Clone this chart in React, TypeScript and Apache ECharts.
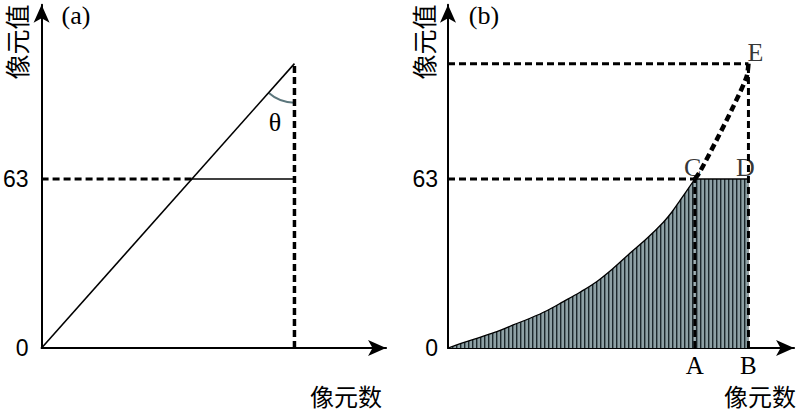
import React, { useEffect, useRef } from 'react';
import * as echarts from 'echarts';

// scale: pixels per data unit (same on both axes)
const K = 169 / 63;
const Y_MAX = 128;
const X_MAX = 129;

const yTickValues = [0, 63];
const yTickLabels = ['0', '63'];
const xTickValuesB = [92, 112];
const xTickLabelsB = ['A', 'B'];

// panel (a)
const lineAX = [0, 94.7];
const lineAY = [0, 106];
const level63 = 63;
const crossA = 56.3;
const rightA = 94.7;
const topA = 106;

// panel (b)
const curveX = [0, 5.7, 11.9, 18.2, 24.3, 30.6, 36.8, 43, 49.2, 55.4, 61.6, 67.8, 74.1, 80.2, 83.4, 86.5, 92];
const curveY = [0, 2.0, 4.0, 6.1, 8.6, 11.1, 13.9, 17.3, 20.8, 24.7, 29.7, 35.3, 40.8, 46.8, 50.6, 55.0, 63];
const extX = [92, 93.9, 100.1, 106.3, 111.3, 112];
const extY = [63, 65.7, 77.5, 89.9, 101.1, 106];
const pointA = 92;
const pointB = 112;
const topB = 106;
const pointLabels = ['C', 'D', 'E'];

const SERIF = '"Liberation Serif", "Times New Roman", serif';
const NUM = '"Liberation Sans", Arial, sans-serif';
const CJK = '"Noto Sans CJK SC", sans-serif';
const DASH = [7, 4];

export default function App() {
  const ref = useRef<HTMLDivElement>(null);
  useEffect(() => {
    if (!ref.current) return;
    const chart = echarts.init(ref.current, null, { renderer: 'svg' });

    const cv = document.createElement('canvas');
    cv.width = 4;
    cv.height = 4;
    const ctx = cv.getContext('2d')!;
    ctx.fillStyle = '#8ea1a5';
    ctx.fillRect(0, 0, 4, 4);
    ctx.fillStyle = '#1c282c';
    ctx.fillRect(0, 0, 1.4, 4);
    const pattern: any = { image: cv, repeat: 'repeat', imageWidth: 4, imageHeight: 4 };

    const gridW = X_MAX * K;
    const gridH = Y_MAX * K;
    const axisLine = {
      show: true,
      symbol: ['none', 'arrow'],
      symbolSize: [12, 18],
      lineStyle: { color: '#000', width: 2 },
    };
    const mkX = (gi: number) => ({
      type: 'value',
      gridIndex: gi,
      min: 0,
      max: X_MAX,
      axisLine,
      axisTick: { show: false },
      splitLine: { show: false },
      axisLabel:
        gi === 1
          ? {
              customValues: xTickValuesB,
              formatter: (v: number) => xTickLabelsB[xTickValuesB.indexOf(v)] ?? '',
              color: '#000',
              fontFamily: SERIF,
              fontSize: 25,
              lineHeight: 25,
              margin: 5,
            }
          : { show: false },
    });
    const mkY = (gi: number) => ({
      type: 'value',
      gridIndex: gi,
      min: 0,
      max: Y_MAX,
      axisLine,
      axisTick: { show: false },
      splitLine: { show: false },
      axisLabel: {
        customValues: yTickValues,
        formatter: (v: number) => yTickLabels[yTickValues.indexOf(v)] ?? '',
        color: '#000',
        fontFamily: NUM,
        fontSize: 23,
        margin: gi === 0 ? 13 : 10,
      },
    });

    const seg = (gi: number, pts: number[][], width: number, dashed: boolean, color = '#000', z = 3) => ({
      type: 'line',
      xAxisIndex: gi,
      yAxisIndex: gi,
      data: pts,
      symbol: 'none',
      z,
      lineStyle: { color, width, type: dashed ? DASH : 'solid' },
    });

    const curvePts = curveX.map((x, i) => [x, curveY[i]]);
    const extPts = extX.map((x, i) => [x, extY[i]]);

    chart.setOption({
      animation: false,
      grid: [
        { left: 40, top: 348 - gridH, width: gridW, height: gridH },
        { left: 448, top: 348 - gridH, width: gridW, height: gridH },
      ],
      xAxis: [mkX(0), mkX(1)],
      yAxis: [mkY(0), mkY(1)],
      series: [
        // panel a
        seg(0, lineAX.map((x, i) => [x, lineAY[i]]), 1.6, false),
        seg(0, [[0, level63], [crossA, level63]], 3, true),
        seg(0, [[crossA, level63], [rightA, level63]], 1.5, false),
        seg(0, [[rightA, 0], [rightA, topA]], 3.5, true),
        // panel b: shaded area
        {
          type: 'line',
          xAxisIndex: 1,
          yAxisIndex: 1,
          data: curvePts,
          smooth: 0.35,
          symbol: 'none',
          z: 2,
          lineStyle: { color: '#000', width: 1.3 },
          areaStyle: { color: pattern, opacity: 1 },
        },
        {
          type: 'line',
          xAxisIndex: 1,
          yAxisIndex: 1,
          data: [[pointA, level63], [pointB, level63]],
          symbol: 'none',
          z: 2,
          lineStyle: { color: '#000', width: 1.3 },
          areaStyle: { color: pattern, opacity: 1 },
        },
        seg(1, [[0, level63], [pointA, level63]], 3, true),
        seg(1, [[pointA, 0], [pointA, level63]], 3, true),
        seg(1, [[0, topB], [pointB, topB]], 3, true),
        seg(1, [[pointB, 0], [pointB, topB]], 3, true),
        {
          type: 'line',
          xAxisIndex: 1,
          yAxisIndex: 1,
          data: extPts,
          smooth: 0.3,
          symbol: 'none',
          z: 4,
          lineStyle: { color: '#000', width: 4.5, type: DASH },
        },
        {
          type: 'scatter',
          xAxisIndex: 1,
          yAxisIndex: 1,
          symbolSize: 0,
          z: 5,
          data: [
            { value: [pointA, level63], name: pointLabels[0], label: { offset: [-2, 1] } },
            { value: [pointB, level63], name: pointLabels[1], label: { offset: [-3, 1] } },
            { value: [pointB, topB], name: pointLabels[2], label: { offset: [7, 2] } },
          ],
          label: {
            show: true,
            position: 'top',
            distance: 0,
            formatter: (p: any) => p.name,
            color: '#000',
            fontFamily: SERIF,
            fontSize: 26,
          },
        },
      ],
    });

    const c = chart.convertToPixel({ gridIndex: 0 }, [rightA, topA]) as number[];
    const o = chart.convertToPixel({ gridIndex: 0 }, [0, 0]) as number[];
    const ang = Math.atan2(o[1] - c[1], o[0] - c[0]);

    const cjk = { font: `25px ${CJK}`, lineHeight: 25, fill: '#000', align: 'center', verticalAlign: 'middle' };
    chart.setOption({
      graphic: [
        {
          type: 'arc',
          shape: { cx: c[0], cy: c[1], r: 39, startAngle: Math.PI / 2, endAngle: ang, clockwise: true },
          style: { stroke: '#5b767c', lineWidth: 2, fill: 'none' },
        },
        { type: 'text', x: 275, y: 122, style: { text: 'θ', font: `26px ${SERIF}`, fill: '#000', align: 'center', verticalAlign: 'middle' } },
        { type: 'text', x: 76, y: 15, style: { text: '(a)', font: `26px ${SERIF}`, fill: '#000', align: 'center', verticalAlign: 'middle' } },
        { type: 'text', x: 484, y: 15, style: { text: '(b)', font: `26px ${SERIF}`, fill: '#000', align: 'center', verticalAlign: 'middle' } },
        { type: 'text', x: 16, y: 42, rotation: Math.PI / 2, style: { text: '像元值', ...cjk } },
        { type: 'text', x: 423, y: 42, rotation: Math.PI / 2, style: { text: '像元值', ...cjk } },
        { type: 'text', x: 346, y: 395, style: { text: '像元数', ...cjk, font: `24px ${CJK}`, lineHeight: 24 } },
        { type: 'text', x: 760, y: 395, style: { text: '像元数', ...cjk, font: `24px ${CJK}`, lineHeight: 24 } },
      ],
    });

    return () => chart.dispose();
  }, []);
  return <div ref={ref} style={{ width: 800, height: 411, position: 'absolute', left: 0, top: 0 }} />;
}
